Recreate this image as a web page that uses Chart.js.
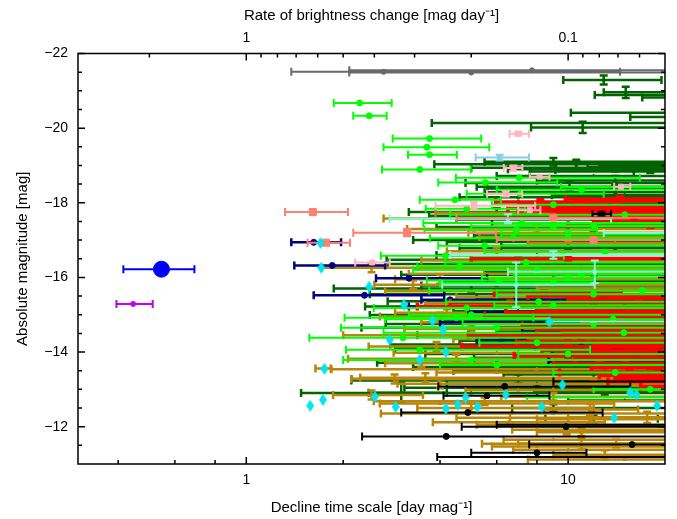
<!DOCTYPE html>
<html>
<head>
<meta charset="utf-8">
<script src="https://cdn.jsdelivr.net/npm/chart.js"></script>
<style>
  html, body { margin: 0; padding: 0; background: #fff; }
  #wrap { width: 677px; height: 519px; }
</style>
</head>
<body>
<div id="wrap"><canvas id="decline"></canvas></div>
<script>
// rows: [decline time, lower, upper, abs. magnitude, magnitude error]
const grayPts = [
  [2.67, 1.38, 14.5, -21.51, 0],
  [7.72, 2.09, 30, -21.55, 0],
  [5.0, 2.09, 30, -21.49, 0]
];
const darkGreenPts = [
  [12.9, 9.66, 19.5, -21.29, 0.12], [15.1, 12.9, 30, -20.96, 0.15], [25, 12.1, 30, -20.89, 0],
  [25, 17.0, 30, -20.82, 0], [25, 10.2, 30, -20.41, 0], [25, 15.6, 30, -20.30, 0],
  [25, 3.77, 30, -20.14, 0], [11.1, 7.67, 30, -20.02, 0.15], [10.6, 3.84, 30, -19.03, 0.12],
  [14, 5.0, 30, -18.94, 0.1], [25, 9.13, 30, -18.88, 0], [16, 7.6, 30, -18.84, 0.15],
  [25, 11.5, 30, -18.96, 0], [25, 12.5, 30, -18.99, 0], [18, 6.5, 30, -18.90, 0.1],
  [10.1, 5.2, 30, -18.43, 0.12], [14, 5.5, 30, -18.28, 0.1], [25, 4.8, 30, -18.53, 0],
  [25, 5.6, 30, -18.38, 0], [15, 8.9, 30, -18.20, 0],
  [6, 3.2, 30, -17.75, 0.1], [9, 4.5, 30, -17.55, 0], [12, 3.9, 30, -17.35, 0.1],
  [8, 5.1, 30, -17.12, 0], [10, 4.2, 30, -16.95, 0.12], [14, 4.6, 30, -16.78, 0],
  [7, 2.73, 30, -16.47, 0.1], [11, 2.75, 30, -16.36, 0], [9, 3.03, 30, -16.07, 0.1],
  [6.5, 4.0, 30, -15.9, 0], [5, 1.87, 30, -15.70, 0.12], [8, 2.42, 30, -15.55, 0],
  [7, 2.75, 30, -15.36, 0.1], [6, 2.34, 30, -15.22, 0], [9, 2.42, 30, -14.99, 0.12],
  [12, 2.71, 30, -14.75, 0], [5, 2.28, 30, -14.65, 0.1], [10, 3.4, 30, -14.45, 0],
  [7, 2.8, 30, -14.2, 0.1], [13, 3.6, 30, -13.95, 0], [6, 2.55, 30, -13.71, 0.1],
  [9, 4.4, 30, -13.5, 0], [7, 2.12, 30, -13.28, 0.12], [11, 2.12, 30, -13.24, 0],
  [8, 3.1, 30, -13.04, 0.1], [5, 1.48, 30, -12.90, 0], [3.03, 2.4, 4.2, -12.91, 0.27],
  [12, 8.5, 19, -12.21, 0.1],
  [9, 5.5, 30, -19.1, 0.1], [12, 6, 30, -18.72, 0], [14, 8, 30, -18.6, 0.12],
  [7, 4.6, 30, -18.15, 0], [11, 7, 30, -17.98, 0.1], [8, 3.7, 30, -17.65, 0],
  [13, 5.8, 30, -17.45, 0.12], [6, 3.3, 30, -17.0, 0], [10, 6.2, 30, -16.85, 0.1],
  [8, 3.9, 30, -16.6, 0], [12, 5.5, 30, -16.15, 0.1], [6, 3.5, 30, -15.78, 0],
  [9, 5.2, 30, -15.45, 0.1], [7, 4.4, 30, -15.1, 0], [11, 3.8, 30, -14.85, 0.12],
  [9, 6, 30, -14.55, 0], [7, 4.6, 30, -14.3, 0.1], [5, 2.9, 30, -14.1, 0],
  [10, 5.1, 30, -13.85, 0.1], [6, 3.3, 30, -13.6, 0], [12, 6.3, 30, -13.4, 0.12],
  [8, 4.2, 30, -13.15, 0], [13, 8, 30, -12.95, 0.1], [15, 10, 30, -12.7, 0],
  [9, 6.7, 30, -12.5, 0.1]
];
const goldenrodPts = [
  [4.5, 2.67, 30, -17.58, 0], [6.5, 3.87, 30, -17.73, 0], [8, 3.16, 30, -17.3, 0.1],
  [7, 4.9, 30, -17.2, 0], [10, 5.3, 30, -17.08, 0.12], [14, 7.5, 30, -16.92, 0],
  [2.45, 1.71, 30, -16.26, 0.12], [5.5, 3.2, 30, -16.1, 0], [3.3, 2.5, 30, -15.8, 0.12],
  [6, 2.7, 30, -15.63, 0], [9, 4.5, 30, -15.47, 0.1], [4.2, 2.9, 30, -15.05, 0.1],
  [7, 3.5, 30, -14.8, 0], [5, 2.0, 30, -14.45, 0.1], [3.9, 2.4, 30, -14.15, 0.12],
  [6, 2.87, 30, -13.98, 0], [4.5, 2.07, 30, -13.82, 0.1], [1.73, 1.64, 1.83, -13.56, 0],
  [8, 1.84, 30, -13.54, 0], [3.6, 2.26, 30, -13.31, 0.12], [2.89, 2.12, 30, -13.28, 0.12],
  [2.45, 1.86, 3.54, -12.85, 0.12], [5.5, 2.49, 30, -12.68, 0.1], [4.0, 2.6, 13.9, -12.62, 0],
  [9, 2.62, 30, -12.35, 0], [6.6, 4.5, 30, -12.24, 0.12], [11.7, 8, 30, -12.2, 0.12],
  [17.6, 10, 30, -12.25, 0.15], [9.9, 6.7, 30, -11.92, 0.12], [11.0, 5.4, 30, -11.54, 0.15],
  [14.1, 7, 30, -11.55, 0.1], [8, 5.8, 30, -11.47, 0], [10, 6.75, 30, -11.38, 0],
  [15, 7.5, 30, -11.12, 0], [11.7, 8.4, 16.5, -12.46, 0.15], [6.5, 3.8, 13, -12.12, 0],
  [12, 9, 30, -13.1, 0.12], [16, 9, 30, -13.8, 0.12], [18, 11, 30, -14.3, 0.1],
  [12, 8, 30, -15.7, 0.1],
  [6, 4.2, 30, -16.7, 0.1], [5, 3.5, 30, -16.45, 0], [4, 2.9, 30, -15.95, 0.12],
  [6, 3.6, 30, -15.3, 0], [4, 2.6, 30, -14.95, 0.1], [5, 3.1, 30, -14.62, 0.12],
  [7, 4.4, 30, -14.35, 0], [3.5, 2.7, 30, -13.7, 0.1], [6, 3.9, 30, -13.45, 0],
  [4, 2.95, 30, -13.15, 0.12], [7, 4.8, 30, -12.98, 0], [9, 6.2, 30, -12.8, 0.1],
  [5, 3.4, 12, -12.5, 0.12], [8, 5.2, 30, -12.05, 0], [11, 8, 30, -11.85, 0.1],
  [9, 6.3, 30, -11.65, 0], [13, 9, 30, -11.25, 0.12]
];
const navyPts = [
  [1.62, 1.38, 1.97, -16.94, 0], [1.85, 1.41, 2.7, -16.32, 0], [3.2, 2.53, 5.6, -15.98, 0],
  [2.33, 1.62, 4.12, -15.52, 0], [8, 3.2, 30, -15.22, 0], [10, 4.9, 30, -15.08, 0],
  [12, 7.2, 30, -14.55, 0], [14, 8.9, 30, -14.02, 0], [12, 8.7, 30, -13.75, 0],
  [9, 4.0, 30, -14.8, 0], [4.3, 3.5, 30, -15.4, 0], [6.2, 5.2, 7.4, -14.33, 0],
  [15, 6.8, 30, -15.35, 0], [11, 7.9, 30, -14.15, 0]
];
const limePts = [
  [2.25, 1.87, 2.83, -20.675, 0], [2.41, 2.15, 2.73, -20.33, 0], [3.71, 2.85, 5.37, -19.72, 0],
  [3.64, 2.67, 5.69, -19.49, 0], [3.71, 3.18, 4.51, -19.29, 0], [3.46, 2.64, 4.98, -18.89, 0],
  [7.05, 4.48, 16.7, -18.67, 0], [5.53, 3.95, 9.26, -18.54, 0], [7.1, 4.84, 12.9, -18.24, 0],
  [14.6, 9.5, 30, -18.42, 0], [4.45, 3.46, 6.18, -18.08, 0], [4.84, 3.61, 7.35, -17.84, 0],
  [7.2, 3.55, 30, -17.46, 0], [9, 5.0, 30, -17.37, 0], [6.9, 3.58, 12.3, -17.27, 0],
  [12, 7.0, 30, -17.39, 0], [6.76, 3.72, 30, -17.05, 0], [4.15, 2.62, 9.7, -16.58, 0],
  [7.4, 4.15, 30, -16.4, 0], [6.1, 3.64, 12.1, -15.92, 0], [9, 4.0, 30, -15.85, 0],
  [4.84, 2.49, 30, -15.18, 0], [8.1, 4.17, 30, -15.35, 0], [4.5, 2.02, 7.8, -14.92, 0],
  [13.8, 2.7, 30, -14.88, 0], [6.0, 1.97, 30, -14.65, 0], [14.9, 2.67, 30, -14.52, 0],
  [3.07, 1.57, 30, -14.38, 0], [3.46, 2.04, 11.7, -14.06, 0], [5.0, 2.0, 30, -13.79, 0],
  [25, 7.46, 30, -12.78, 0], [10, 5.4, 30, -16.0, 0], [8, 3.3, 30, -16.2, 0],
  [12, 6.0, 30, -15.55, 0],
  [11, 6, 30, -18.35, 0], [9, 5.8, 30, -17.95, 0], [15, 4.3, 30, -17.68, 0],
  [10, 6.2, 30, -17.15, 0], [5.5, 3.95, 30, -16.85, 0], [13, 5.5, 30, -16.68, 0],
  [4.6, 3.4, 30, -16.3, 0], [11, 6.8, 30, -16.08, 0], [17, 3.7, 30, -15.65, 0],
  [9, 5.9, 30, -15.25, 0], [5, 3.2, 30, -15.0, 0], [12, 4.7, 30, -14.75, 0],
  [8, 5.3, 30, -14.25, 0], [10, 7, 30, -13.95, 0], [6, 4, 30, -13.65, 0],
  [14, 9, 30, -13.45, 0], [18, 12, 30, -13.0, 0]
];
const redPts = [
  [8.2, 5.95, 13.1, -18.02, 0], [14.5, 9.8, 30, -18.1, 0], [11.0, 7.8, 30, -17.9, 0],
  [16, 7.0, 30, -17.78, 0], [12, 8.9, 30, -17.62, 0], [18, 10, 30, -17.4, 0],
  [10, 5.0, 30, -16.5, 0],
  [8.4, 5.9, 14.6, -15.58, 0], [6.6, 4.3, 30, -15.32, 0], [12, 3.4, 30, -15.22, 0],
  [15.1, 6.4, 30, -15.06, 0], [17, 12, 30, -14.88, 0], [13, 8, 30, -14.6, 0],
  [10, 6.9, 30, -14.28, 0], [18.5, 4.67, 30, -14.15, 0], [14, 9.2, 30, -13.98, 0],
  [19, 11.8, 30, -13.58, 0], [15.5, 9.4, 30, -13.45, 0], [25, 13.3, 30, -13.21, 0],
  [25, 16.8, 30, -13.08, 0], [11, 4.9, 30, -14.45, 0], [16, 7.2, 30, -14.72, 0],
  [13, 7.5, 30, -15.5, 0], [16.5, 10, 30, -15.42, 0], [11, 8, 30, -15.15, 0],
  [9, 5.5, 30, -14.98, 0], [14, 9, 30, -14.92, 0], [17.5, 11, 30, -14.8, 0],
  [12, 6, 30, -14.66, 0], [15, 9.6, 30, -14.52, 0], [11, 7.5, 30, -14.38, 0],
  [18, 12, 30, -14.22, 0], [13, 8.3, 30, -14.05, 0], [10, 6.8, 30, -13.9, 0],
  [15, 10.5, 30, -13.82, 0], [12.5, 9, 30, -13.7, 0], [18, 13, 30, -13.63, 0],
  [17, 12.5, 30, -13.38, 0], [19, 14, 30, -13.3, 0], [10, 6.5, 30, -17.85, 0],
  [13, 9.2, 30, -17.7, 0], [16, 12, 30, -17.5, 0], [14, 10.5, 30, -18.05, 0]
];
const aquaPts = [
  [6.5, 2.79, 13.6, -17.57, 0.12], [25, 12.9, 30, -17.19, 0.15], [6.9, 4.06, 12.1, -15.8, 0.6],
  [12.1, 6.5, 30, -16.15, 0.3], [25, 8.7, 30, -14.82, 0.1], [9, 4.3, 30, -16.6, 0.1]
];
const blackPts = [
  [12.7, 11.9, 13.6, -17.7, 0.06], [6.35, 3.95, 15.6, -13.08, 0], [25, 9.0, 30, -13.21, 0],
  [5.6, 4.1, 8.75, -12.83, 0], [4.88, 3.03, 12.8, -12.38, 0], [25, 6.0, 30, -12.05, 0],
  [9.85, 4.67, 30, -12.0, 0], [4.18, 2.29, 30, -11.74, 0], [15.8, 7.57, 30, -11.52, 0],
  [8, 5.0, 11.4, -11.3, 0], [25, 3.92, 30, -11.19, 0]
];
const pinkPts = [
  [7.0, 6.58, 7.56, -19.85, 0.05], [6.76, 6.31, 7.21, -18.93, 0.07], [8.15, 7.6, 8.75, -18.7, 0],
  [5.1, 3.87, 7.9, -17.92, 0.1], [14.6, 13.9, 15.6, -18.43, 0], [2.46, 2.18, 2.79, -16.4, 0],
  [6.4, 5.6, 7.2, -18.24, 0.07], [7.6, 7.0, 8.2, -17.8, 0]
];
const salmonPts = [
  [1.61, 1.32, 2.07, -17.75, 0], [1.77, 1.55, 2.10, -16.93, 0], [3.16, 2.15, 5.96, -17.2, 0.1],
  [9, 4.5, 30, -17.6, 0], [12, 6, 30, -17.0, 0]
];
const skyBluePts = [[6.13, 5.16, 7.56, -19.21, 0.08]];
const cyanPts = [
  [1.70, -16.92], [1.71, -16.26], [2.41, -15.75], [3.09, -15.27], [3.79, -14.84],
  [4.09, -14.6], [2.79, -14.33], [4.17, -14.0], [3.46, -13.8], [1.75, -13.55],
  [2.51, -12.8], [1.73, -12.72], [1.58, -12.56], [2.91, -12.53], [4.17, -12.48],
  [4.54, -12.59], [4.8, -12.78], [5.23, -12.53], [6.4, -12.86], [8.27, -12.53],
  [13.9, -12.24], [15.6, -12.92], [16.3, -12.86], [18.9, -12.56], [9.6, -13.12],
  [8.75, -14.81]
];
const bluePts = [[0.545, 0.415, 0.69, -16.22, 0]];
const purplePts = [[0.445, 0.395, 0.512, -15.29, 0]];

const magTicks = [-22, -20, -18, -16, -14, -12];
const magMinor = [-21.5, -21, -20.5, -19.5, -19, -18.5, -17.5, -17, -16.5, -15.5, -15, -14.5, -13.5, -13, -12.5, -11.5];
const timeTicks = [1, 10];
const timeMinor = [0.4, 0.6, 0.8, 2, 4, 6, 8];
const rateTicks = [1, 0.1];
const rateMinor = [2, 0.9, 0.8, 0.7, 0.6, 0.5, 0.4, 0.3, 0.2, 0.09, 0.08, 0.07, 0.06];

const FONT = "'Liberation Sans', Arial, Helvetica, sans-serif";

function series(rows, color, style, radius, width, cap) {
  return {
    data: rows.map(r => ({ x: r[0], lo: r[1], hi: r[2], y: r[3], ye: r[4] })),
    borderColor: color,
    backgroundColor: color,
    pointStyle: style,
    pointRadius: radius,
    pointBorderWidth: 1,
    barWidth: width,
    cap: cap === undefined ? 4 : cap
  };
}

// tall diamond used for the cyan points
const diamond = document.createElement('canvas');
diamond.width = 8; diamond.height = 12;
(function () {
  const c = diamond.getContext('2d');
  c.fillStyle = '#00e5ee';
  c.beginPath();
  c.moveTo(4, 0); c.lineTo(8, 6); c.lineTo(4, 12); c.lineTo(0, 6);
  c.closePath(); c.fill();
})();

const errorBars = {
  id: 'errorBars',
  beforeDatasetDraw(chart, args) {
    const ds = chart.data.datasets[args.index];
    const { ctx, chartArea: a, scales: { x, y } } = chart;
    const c = ds.cap;
    ctx.save();
    ctx.beginPath();
    ctx.rect(a.left, a.top, a.right - a.left, a.bottom - a.top);
    ctx.clip();
    ctx.strokeStyle = ds.borderColor;
    ctx.lineWidth = ds.barWidth;
    ds.data.forEach(p => {
      const py = y.getPixelForValue(p.y);
      ctx.beginPath();
      if (p.hi > p.lo) {
        const x0 = x.getPixelForValue(p.lo), x1 = x.getPixelForValue(p.hi);
        ctx.moveTo(x0, py); ctx.lineTo(x1, py);
        ctx.moveTo(x0, py - 4); ctx.lineTo(x0, py + 4);
        ctx.moveTo(x1, py - 4); ctx.lineTo(x1, py + 4);
      }
      if (p.ye) {
        const px = x.getPixelForValue(p.x);
        const y0 = y.getPixelForValue(p.y - p.ye), y1 = y.getPixelForValue(p.y + p.ye);
        ctx.moveTo(px, y0); ctx.lineTo(px, y1);
        if (c) {
          ctx.moveTo(px - c, y0); ctx.lineTo(px + c, y0);
          ctx.moveTo(px - c, y1); ctx.lineTo(px + c, y1);
        }
      }
      ctx.stroke();
    });
    ctx.restore();
  }
};

const frame = {
  id: 'frame',
  afterDraw(chart) {
    const { ctx, chartArea: a, scales: { x, y } } = chart;
    ctx.save();
    ctx.strokeStyle = '#000';
    ctx.lineWidth = 1.5;
    ctx.strokeRect(a.left, a.top, a.right - a.left, a.bottom - a.top);
    ctx.beginPath();
    const tickY = (v, len) => {
      const py = y.getPixelForValue(v);
      ctx.moveTo(a.left, py); ctx.lineTo(a.left + len, py);
      ctx.moveTo(a.right, py); ctx.lineTo(a.right - len, py);
    };
    magTicks.forEach(v => tickY(v, 7));
    magMinor.forEach(v => tickY(v, 4));
    const tickB = (v, len) => {
      const px = x.getPixelForValue(v);
      ctx.moveTo(px, a.bottom); ctx.lineTo(px, a.bottom - len);
    };
    timeTicks.forEach(v => tickB(v, 7));
    timeMinor.forEach(v => tickB(v, 4));
    const tickT = (r, len) => {
      const px = x.getPixelForValue(1 / r);
      ctx.moveTo(px, a.top); ctx.lineTo(px, a.top + len);
    };
    rateTicks.forEach(r => tickT(r, 7));
    rateMinor.forEach(r => tickT(r, 4));
    ctx.stroke();
    ctx.restore();
  }
};

const cyanSet = series(cyanPts.map(r => [r[0], r[0], r[0], r[1], 0.09]), '#00e5ee', diamond, 5, 2, 0);

// Chart.js paints the first dataset last (on top), so the list runs top to bottom
new Chart(document.getElementById('decline'), {
  type: 'scatter',
  data: {
    datasets: [
      series(purplePts, '#bf00ff', 'circle', 2.5, 2),
      series(bluePts, '#0000ff', 'circle', 8, 2),
      cyanSet,
      series(skyBluePts, '#87ceeb', 'rect', 3, 2),
      series(salmonPts, '#fa8072', 'rect', 5, 2),
      series(pinkPts, '#ffb6c1', 'rect', 3.5, 2),
      series(blackPts, '#000000', 'circle', 3, 2),
      series(aquaPts, '#7fffd4', 'circle', 2, 2),
      series(limePts, '#00ff00', 'circle', 3, 2),
      series(redPts, '#ff0000', 'rect', 5, 3.5),
      series(navyPts, '#000080', 'circle', 3, 2.5),
      series(goldenrodPts, '#b8860b', 'triangle', 2, 2.5),
      series(darkGreenPts, '#006400', 'triangle', 2, 2.5),
      series(grayPts, '#696969', 'circle', 2.5, 2)
    ]
  },
  options: {
    responsive: true,
    maintainAspectRatio: false,
    animation: false,
    layout: { padding: { right: 12 } },
    plugins: { legend: { display: false }, tooltip: { enabled: false } },
    scales: {
      x: {
        type: 'logarithmic', position: 'bottom', min: 0.332, max: 20,
        afterBuildTicks: s => { s.ticks = timeTicks.map(v => ({ value: v })); },
        afterFit: s => { s.height = 55; },
        grid: { display: false, drawTicks: false },
        border: { display: false },
        ticks: { padding: 8, color: '#000', font: { family: FONT, size: 14 }, callback: v => String(v) },
        title: { display: true, text: 'Decline time scale [day mag\u207B\u00B9]', color: '#000',
                 font: { family: FONT, size: 15 }, padding: { bottom: 2 } }
      },
      x2: {
        type: 'logarithmic', position: 'top', min: 0.332, max: 20,
        afterBuildTicks: s => { s.ticks = rateTicks.map(r => ({ value: 1 / r })); },
        afterFit: s => { s.height = 53.5; },
        grid: { display: false, drawTicks: false },
        border: { display: false },
        ticks: { padding: 7, color: '#000', font: { family: FONT, size: 14 },
                 callback: v => String(Math.round(100 / v) / 100) },
        title: { display: true, text: 'Rate of brightness change [mag day\u207B\u00B9]', color: '#000',
                 font: { family: FONT, size: 15 }, padding: { top: 7 } }
      },
      y: {
        type: 'linear', position: 'left', reverse: true, min: -22, max: -11,
        afterBuildTicks: s => { s.ticks = magTicks.map(v => ({ value: v })); },
        afterFit: s => { s.width = 78; },
        grid: { display: false, drawTicks: false },
        border: { display: false },
        ticks: { padding: 10, color: '#000', font: { family: FONT, size: 14 },
                 callback: v => '\u2212' + Math.abs(v) },
        title: { display: true, text: 'Absolute magnitude [mag]', color: '#000',
                 font: { family: FONT, size: 15 }, padding: { top: 14 } }
      }
    }
  },
  plugins: [errorBars, frame]
});
</script>
</body>
</html>
